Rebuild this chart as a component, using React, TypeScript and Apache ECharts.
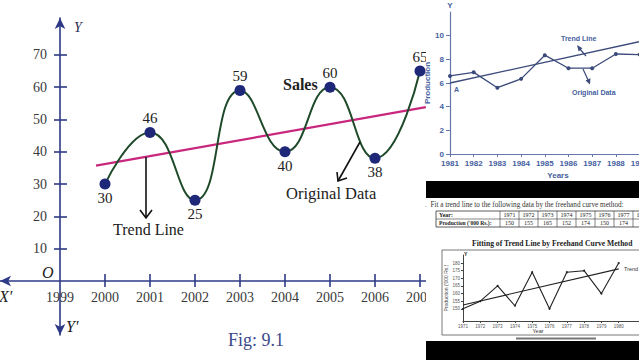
import { useEffect, useRef } from "react";
import * as echarts from "echarts";

// ---------- data ----------
const ORIGIN_YEAR = 1999;
const salesYears = [2000, 2001, 2002, 2003, 2004, 2005, 2006, 2007];
const salesValues = [30, 46, 25, 59, 40, 60, 38, 65];
const salesTrendYears = [1999.8, 2007.13];
const salesTrendValues = [35.7, 53.8];
const salesXTickYears = [1999, 2000, 2001, 2002, 2003, 2004, 2005, 2006, 2007];
const salesYTickValues = [10, 20, 30, 40, 50, 60, 70];

const prodYears = [1981, 1982, 1983, 1984, 1985, 1986, 1987, 1988, 1989];
const prodValues = [6.6, 6.9, 5.6, 6.35, 8.35, 7.25, 7.25, 8.45, 8.4];
const prodTrendYears = [1981, 1989];
const prodTrendValues = [6.0, 9.5];
const prodYTickValues = [0, 2, 4, 6, 8, 10];

const fhYears = [1971, 1972, 1973, 1974, 1975, 1976, 1977, 1978, 1979, 1980];
const fhValues = [150, 155, 165, 152, 174, 150, 174, 175, 160, 180];
const fhTrendYears = [1971, 1980];
const fhTrendValues = [152.5, 176.2];
const fhYTickValues = [150, 155, 160, 165, 170, 175, 180];
const tableCount = 8;

// ---------- styles ----------
const SERIF = "'Liberation Serif', 'DejaVu Serif', serif";
const SANS = "'Liberation Sans', Arial, sans-serif";
const AX = "#2e3a85";
const PANEL_BLUE = "#4560a0";
const PANEL_AX = "#6678ab";
const PANEL_LINE = "#3b4a7a";

function txt(x: number, y: number, text: string, o: any = {}) {
  return {
    type: "text",
    x,
    y,
    z: o.z ?? 10,
    style: {
      text,
      fill: o.fill ?? "#222",
      fontFamily: o.fontFamily ?? SERIF,
      fontSize: o.fontSize ?? 14,
      fontWeight: o.fontWeight ?? "normal",
      fontStyle: o.fontStyle ?? "normal",
      textAlign: o.align ?? "left",
      verticalAlign: "middle",
    },
  };
}
function ln(x1: number, y1: number, x2: number, y2: number, stroke: string, w: number, z = 10) {
  return { type: "line", z, shape: { x1, y1, x2, y2 }, style: { stroke, lineWidth: w } };
}

export default function App() {
  const ref = useRef<HTMLDivElement>(null);

  useEffect(() => {
    const el = ref.current;
    if (!el) return;
    const chart = echarts.init(el, null, { renderer: "svg" });

    const PX_PER_YEAR = 45;
    const xMin = -60 / PX_PER_YEAR;
    const xMax = 366 / PX_PER_YEAR;
    const yMin = -16.7;
    const yMax = 81.4;

    const salesData = salesYears.map((yr, i) => {
      const v = salesValues[i];
      const prev = i > 0 ? salesValues[i - 1] : -Infinity;
      const next = i < salesValues.length - 1 ? salesValues[i + 1] : -Infinity;
      const peak = (i === 0 ? v > next : v > prev) && (i === salesValues.length - 1 ? v > prev : v > next);
      return { value: [yr - ORIGIN_YEAR, v], label: { position: peak ? "top" : "bottom" } };
    });

    // table graphic
    const tableX0 = 436;
    const tableLabelEnd = 500;
    const cellW = 19;
    const tTop = 211;
    const tMid = 219;
    const tBot = 227;
    const tableEls: any[] = [
      { type: "rect", z: 62, shape: { x: tableX0, y: tTop, width: 230, height: tBot - tTop }, style: { fill: "none", stroke: "#333", lineWidth: 0.8 } },
      ln(tableX0, tMid, 666, tMid, "#333", 0.6, 62),
      ln(tableLabelEnd, tTop, tableLabelEnd, tBot, "#333", 0.6, 62),
      txt(439, (tTop + tMid) / 2, "Year:", { fontSize: 6, fontWeight: "bold", z: 62 }),
      txt(439, (tMid + tBot) / 2, "Production ('000 Rs.):", { fontSize: 5.6, fontWeight: "bold", z: 62 }),
    ];
    for (let i = 0; i < tableCount; i++) {
      const cx = tableLabelEnd + cellW * i + cellW / 2;
      tableEls.push(ln(tableLabelEnd + cellW * (i + 1), tTop, tableLabelEnd + cellW * (i + 1), tBot, "#333", 0.6, 62));
      tableEls.push(txt(cx, (tTop + tMid) / 2, String(fhYears[i]), { fontSize: 6, align: "center", z: 62 }));
      if (i < tableCount - 1) {
        tableEls.push(txt(cx, (tMid + tBot) / 2, String(fhValues[i]), { fontSize: 6, align: "center", z: 62 }));
      }
    }

    const noLine = { show: false };
    const option: any = {
      animation: false,
      backgroundColor: "#ffffff",
      grid: [
        { left: 0, top: 18, width: 426, height: 317, outerBoundsMode: "none", containLabel: false },
        { left: 450, top: 12, width: 189.6, height: 142, outerBoundsMode: "none", containLabel: false },
        { left: 463, top: 255, width: 176, height: 66, outerBoundsMode: "none", containLabel: false },
        // label grid for the main chart: its bottom-left corner is the origin O
        { left: 60, top: 18, width: 366, height: 263, outerBoundsMode: "none", containLabel: false },
      ],
      xAxis: [
        {
          gridIndex: 0,
          type: "value",
          min: xMin,
          max: xMax,
          axisLine: {
            onZero: true,
            onZeroAxisIndex: 0,
            symbol: ["arrow", "none"],
            symbolSize: [8, 11],
            lineStyle: { color: AX, width: 1.6 },
          },
          axisTick: { customValues: salesXTickYears.slice(1).map((y) => y - ORIGIN_YEAR), length: 6, lineStyle: { color: AX, width: 1.6 } },
          axisLabel: { show: false },
          splitLine: { show: false },
        },
        {
          gridIndex: 0,
          type: "value",
          position: "top",
          min: xMin,
          max: xMax,
          axisLine: { show: false, onZero: true, onZeroAxisIndex: 0 },
          axisTick: { customValues: salesXTickYears.slice(1).map((y) => y - ORIGIN_YEAR), length: 7, lineStyle: { color: AX, width: 1.6 } },
          axisLabel: { show: false },
          splitLine: { show: false },
        },
        {
          gridIndex: 1,
          type: "value",
          min: 1981,
          max: 1989,
          interval: 1,
          z: 60,
          axisLine: { onZero: false, lineStyle: { color: PANEL_AX, width: 1.2 } },
          axisTick: { length: 3, lineStyle: { color: PANEL_AX } },
          axisLabel: { fontFamily: SANS, fontWeight: "bold", fontSize: 8, color: PANEL_BLUE, margin: 5, formatter: (v: number) => String(v) },
          splitLine: { show: false },
        },
        {
          gridIndex: 2,
          type: "value",
          min: 1971,
          max: 1971 + 176 / 17.3,
          z: 60,
          axisLine: { onZero: false, lineStyle: { color: "#444", width: 1 } },
          axisTick: { customValues: fhYears, length: 2, lineStyle: { color: "#444" } },
          axisLabel: { customValues: fhYears, fontFamily: SANS, fontSize: 4.5, color: "#555", margin: 3, formatter: (v: number) => String(v) },
          splitLine: { show: false },
        },
        {
          gridIndex: 3,
          type: "value",
          min: 0,
          max: 366 / PX_PER_YEAR,
          axisLine: { ...noLine, onZero: false },
          axisTick: noLine,
          axisLabel: {
            customValues: salesXTickYears.map((y) => y - ORIGIN_YEAR),
            formatter: (v: number) => String(Math.round(v + ORIGIN_YEAR)),
            fontFamily: SERIF,
            fontSize: 14,
            color: "#3a3a3a",
            margin: 9,
          },
          splitLine: { show: false },
        },
      ],
      yAxis: [
        {
          gridIndex: 0,
          type: "value",
          min: yMin,
          max: yMax,
          axisLine: {
            onZero: true,
            onZeroAxisIndex: 0,
            symbol: ["arrow", "arrow"],
            symbolSize: [8, 11],
            lineStyle: { color: AX, width: 1.6 },
          },
          axisTick: { customValues: salesYTickValues, length: 6, lineStyle: { color: AX, width: 1.6 } },
          axisLabel: { show: false },
          splitLine: { show: false },
        },
        {
          gridIndex: 0,
          type: "value",
          position: "right",
          min: yMin,
          max: yMax,
          axisLine: { show: false, onZero: true, onZeroAxisIndex: 0 },
          axisTick: { customValues: salesYTickValues, length: 7, lineStyle: { color: AX, width: 1.6 } },
          axisLabel: { show: false },
          splitLine: { show: false },
        },
        {
          gridIndex: 1,
          type: "value",
          min: 0,
          max: 12,
          z: 60,
          name: "Production",
          nameLocation: "middle",
          nameRotate: 90,
          nameGap: 14,
          nameTextStyle: { fontFamily: SANS, fontWeight: "bold", fontSize: 8, color: PANEL_BLUE },
          axisLine: { show: true, onZero: false, lineStyle: { color: PANEL_AX, width: 1.2 } },
          axisTick: { show: true, customValues: prodYTickValues, length: 4, lineStyle: { color: PANEL_AX } },
          axisLabel: { customValues: prodYTickValues, fontFamily: SANS, fontWeight: "bold", fontSize: 8, color: PANEL_BLUE, margin: 6 },
          splitLine: { show: false },
        },
        {
          gridIndex: 2,
          type: "value",
          min: 142,
          max: 185.3,
          z: 60,
          name: "Production ('000 Rs.)",
          nameLocation: "middle",
          nameRotate: 90,
          nameGap: 10,
          nameTextStyle: { fontFamily: SANS, fontSize: 5, color: "#444" },
          axisLine: { show: true, onZero: false, lineStyle: { color: "#444", width: 1 } },
          axisTick: { show: true, customValues: fhYTickValues, length: 2, lineStyle: { color: "#444" } },
          axisLabel: { customValues: fhYTickValues, fontFamily: SANS, fontSize: 4.5, color: "#555", margin: 3 },
          splitLine: { show: false },
        },
        {
          gridIndex: 3,
          type: "value",
          min: 0,
          max: yMax,
          axisLine: { ...noLine, onZero: false },
          axisTick: noLine,
          axisLabel: { customValues: salesYTickValues, fontFamily: SERIF, fontSize: 14, color: "#3a3a3a", margin: 13 },
          splitLine: { show: false },
        },
      ],
      series: [
        {
          name: "Trend Line",
          type: "line",
          xAxisIndex: 0,
          yAxisIndex: 0,
          z: 2,
          data: salesTrendYears.map((y, i) => [y - ORIGIN_YEAR, salesTrendValues[i]]),
          symbol: "none",
          lineStyle: { color: "#c8277d", width: 2.2 },
        },
        {
          name: "Sales",
          type: "line",
          xAxisIndex: 0,
          yAxisIndex: 0,
          z: 3,
          data: salesData,
          smooth: 0.5,
          symbol: "circle",
          symbolSize: 11,
          itemStyle: { color: "#1f2878" },
          lineStyle: { color: "#1e4a2a", width: 2 },
          label: {
            show: true,
            formatter: (p: any) => String(p.value[1]),
            fontFamily: SERIF,
            fontSize: 15,
            color: "#222",
            distance: 1,
          },
        },
        {
          name: "Production Trend",
          type: "line",
          xAxisIndex: 2,
          yAxisIndex: 2,
          z: 61,
          data: prodTrendYears.map((y, i) => [y, prodTrendValues[i]]),
          symbol: "none",
          lineStyle: { color: PANEL_LINE, width: 1.3 },
        },
        {
          name: "Production",
          type: "line",
          xAxisIndex: 2,
          yAxisIndex: 2,
          z: 61,
          data: prodYears.map((y, i) => [y, prodValues[i]]),
          symbol: "circle",
          symbolSize: 4,
          itemStyle: { color: PANEL_LINE },
          lineStyle: { color: PANEL_LINE, width: 1.3 },
        },
        {
          name: "Freehand Trend",
          type: "line",
          xAxisIndex: 3,
          yAxisIndex: 3,
          z: 61,
          data: fhTrendYears.map((y, i) => [y, fhTrendValues[i]]),
          symbol: "none",
          lineStyle: { color: "#222", width: 1.1 },
        },
        {
          name: "Freehand Production",
          type: "line",
          xAxisIndex: 3,
          yAxisIndex: 3,
          z: 61,
          data: fhYears.map((y, i) => [y, fhValues[i]]),
          symbol: "circle",
          symbolSize: 2,
          itemStyle: { color: "#222" },
          lineStyle: { color: "#222", width: 1.1 },
        },
      ],
      graphic: [
        // main chart annotations
        txt(74, 27, "Y", { fontSize: 14, fontStyle: "italic", fill: "#2b2b55" }),
        txt(42, 272, "O", { fontSize: 16, fontStyle: "italic", fill: "#222" }),
        txt(-1, 296, "X′", { fontSize: 16, fontStyle: "italic", fill: "#222" }),
        txt(66, 326, "Y′", { fontSize: 16, fontStyle: "italic", fill: "#222" }),
        txt(283, 84, "Sales", { fontSize: 16, fontWeight: "bold", fill: "#222" }),
        txt(113, 229, "Trend Line", { fontSize: 16, fill: "#222" }),
        ln(146, 157, 146, 217, "#111", 1.6),
        { type: "polyline", z: 10, shape: { points: [[140, 210], [146, 218], [152, 210]] }, style: { stroke: "#111", lineWidth: 1.6, fill: "none" } },
        txt(286, 193, "Original Data", { fontSize: 16.5, fill: "#222" }),
        ln(360, 142, 338, 181, "#111", 1.6),
        { type: "polyline", z: 10, shape: { points: [[347, 178], [338, 181], [337, 172]] }, style: { stroke: "#111", lineWidth: 1.6, fill: "none" } },
        txt(228, 340, "Fig: 9.1", { fontSize: 18, fill: "#3a4a8a" }),

        // cover for the right-hand panels
        { type: "rect", z: 50, shape: { x: 426, y: 0, width: 213, height: 360 }, style: { fill: "#ffffff" } },

        // top-right panel annotations
        txt(450, 5, "Y", { fontFamily: SANS, fontSize: 8, fontWeight: "bold", fill: PANEL_BLUE, align: "center", z: 62 }),
        txt(454, 89, "A", { fontFamily: SANS, fontSize: 7, fontWeight: "bold", fill: PANEL_BLUE, z: 62 }),
        txt(561, 38, "Trend Line", { fontFamily: SANS, fontSize: 7, fontWeight: "bold", fill: PANEL_BLUE, z: 62 }),
        ln(586, 56, 579, 48, PANEL_LINE, 1.2, 62),
        { type: "polygon", z: 62, shape: { points: [[577, 45], [582.4, 48.2], [578.6, 51.6]] }, style: { fill: PANEL_LINE } },
        txt(572, 92, "Original Data", { fontFamily: SANS, fontSize: 7, fontWeight: "bold", fill: PANEL_BLUE, z: 62 }),
        ln(583, 69, 588.5, 81, PANEL_LINE, 1.2, 62),
        { type: "polygon", z: 62, shape: { points: [[590, 84.5], [590.4, 78.3], [585.6, 80.5]] }, style: { fill: PANEL_LINE } },
        txt(558, 175, "Years", { fontFamily: SANS, fontSize: 8, fontWeight: "bold", fill: PANEL_BLUE, align: "center", z: 62 }),

        // black bars
        { type: "rect", z: 63, shape: { x: 426, y: 181, width: 213, height: 17 }, style: { fill: "#000" } },
        { type: "rect", z: 63, shape: { x: 426, y: 341, width: 213, height: 19 }, style: { fill: "#000" } },

        // bottom-right panel
        txt(425, 205, ".  Fit a trend line to the following data by the freehand curve method:", { fontSize: 7.2, fill: "#333", z: 62 }),
        ...tableEls,
        txt(472, 243, "Fitting of Trend Line by Freehand Curve Method", { fontSize: 7.6, fontWeight: "bold", fill: "#222", z: 62 }),
        { type: "rect", z: 59, shape: { x: 442, y: 250, width: 210, height: 85 }, style: { fill: "none", stroke: "#555", lineWidth: 0.8 } },
        txt(464, 254, "Y", { fontFamily: SANS, fontSize: 5, fontWeight: "bold", fill: "#222", z: 62 }),
        txt(624, 269, "Trend", { fontFamily: SANS, fontSize: 5.5, fill: "#333", z: 62 }),
        txt(538, 331, "Year", { fontFamily: SANS, fontSize: 5.5, fill: "#333", align: "center", z: 62 }),
        ln(516, 338.5, 596, 338.5, "#777", 2, 62),
      ],
    };

    chart.setOption(option);
    return () => chart.dispose();
  }, []);

  return (
    <div
      ref={ref}
      style={{ position: "absolute", left: 0, top: 0, width: 639, height: 360, background: "#fff" }}
    />
  );
}
